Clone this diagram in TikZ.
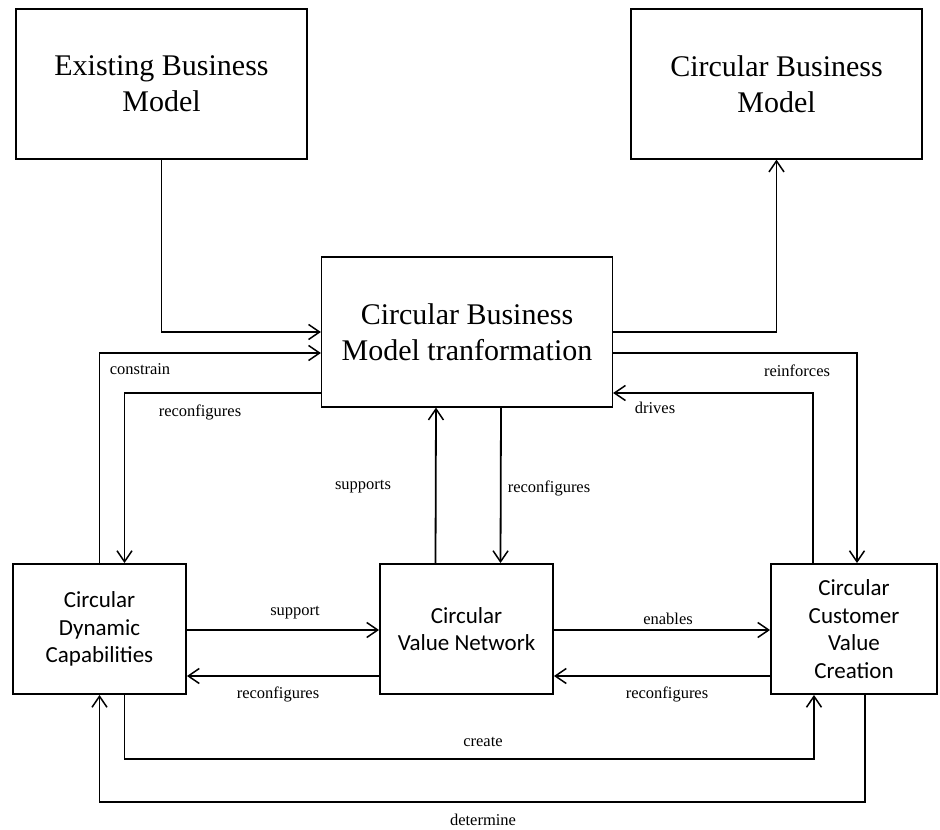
\documentclass[tikz,border=0pt]{standalone}
\usepackage{fontspec}
\setmainfont{Liberation Serif}
\newfontfamily\calibrifam{Carlito}
\usetikzlibrary{arrows.meta,calc}

\begin{document}
\begin{tikzpicture}[x=1pt,y=-1pt,
  bigbox/.style={draw, line width=1.2pt, minimum width=291pt, minimum height=150pt,
    align=center, inner sep=0pt, font=\fontsize{30}{36}\selectfont},
  smallbox/.style={draw, line width=1.9pt, minimum height=130pt,
    align=center, inner sep=0pt, font=\calibrifam\fontsize{23}{27.5}\selectfont},
  conn/.style={line width=1.8pt, -{Straight Barb[length=11pt,width=15pt,line width=1.5pt]}},
  lbl/.style={inner sep=0pt, font=\fontsize{16.5}{18}\selectfont}]

% canvas
\fill[white] (0,0) rectangle (940,830);
\useasboundingbox (0,0) rectangle (940,830);

% top-level models
\node[bigbox] (ebm)  at (161.5,84) {Existing Business\\Model};
\node[bigbox] (cbm)  at (776.5,84) {Circular Business\\Model};
\node[bigbox] (cbmt) at (467,332)  {Circular Business\\Model tranformation};

% building blocks
\node[smallbox, minimum width=173pt] (cdc)  at (99.5,629) {Circular\\Dynamic\\Capabilities};
\node[smallbox, minimum width=173pt] (cvn)  at (466.5,629) {Circular\\Value Network};
\node[smallbox, minimum width=166pt] (ccvc) at (854,629) {Circular\\Customer\\Value\\Creation};

% transformation path
\draw[conn] (ebm.south) |- (cbmt.west);
\draw[conn] (cbmt.east) -| (cbm.south);

% links between the transformation and the building blocks
\draw[conn] (cdc.north) |- ([yshift=-21pt]cbmt.west);
\draw[conn] ([yshift=-61pt]cbmt.west) -| ([xshift=25pt]cdc.north);
\draw[conn] ([yshift=-21pt]cbmt.east) -| ([xshift=3pt]ccvc.north);
\draw[conn] ([xshift=-41pt]ccvc.north) |- ([yshift=-61pt]cbmt.east);
\draw[conn] ([xshift=-31pt]cvn.north) -- ([xshift=-31pt]cbmt.south);
\draw[conn] ([xshift=34pt]cbmt.south) -- ([xshift=34pt]cvn.north);

% links between the building blocks
\draw[conn] ([yshift=-1pt]cdc.east) -- ([yshift=-1pt]cvn.west);
\draw[conn] ([yshift=-47pt]cvn.west) -- ([yshift=-47pt]cdc.east);
\draw[conn] ([yshift=-1pt]cvn.east) -- ([yshift=-1pt]ccvc.west);
\draw[conn] ([yshift=-47pt]ccvc.west) -- ([yshift=-47pt]cvn.east);

% create loop
\coordinate (createlvl) at (0,759);
\coordinate (cr1) at ([xshift=25pt]cdc.south);
\coordinate (cr2) at ([xshift=-40pt]ccvc.south);
\draw[conn] (cr1) -- (cr1 |- createlvl) -| (cr2);

% determine loop
\coordinate (detlvl) at (0,802);
\coordinate (de1) at ([xshift=11pt]ccvc.south);
\draw[conn] (de1) -- (de1 |- detlvl) -| (cdc.south);

% labels
\node[lbl] (lconstrain) at (140,369) {constrain};
\node[lbl] (lreconf1)   at (200,412) {reconfigures};
\node[lbl] (lreinforce) at (797,371) {reinforces};
\node[lbl] (ldrives)    at (655,408) {drives};
\node[lbl] (lsupports)  at (363,487) {supports};
\node[lbl] (lreconf2)   at (549,488) {reconfigures};
\node[lbl] (lsupport)   at (295,613) {support};
\node[lbl] (lenables)   at (668,619) {enables};
\node[lbl] (lreconf3)   at (278,694) {reconfigures};
\node[lbl] (lreconf4)   at (667,694) {reconfigures};
\node[lbl] (lcreate)    at (483,742) {create};
\node[lbl] (ldetermine) at (483,820) {determine};
\end{tikzpicture}
\end{document}
